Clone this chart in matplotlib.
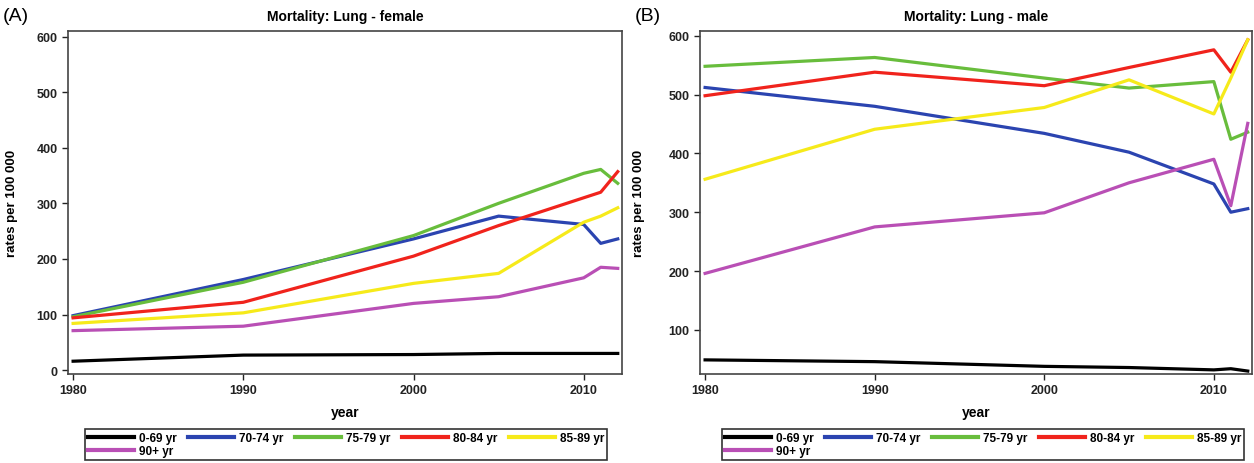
import matplotlib
matplotlib.use("Agg")
import matplotlib.pyplot as plt

plt.rcParams['font.family'] = ['Liberation Sans Narrow', 'Liberation Sans', 'DejaVu Sans']

years = [1980, 1990, 2000, 2005, 2010, 2011, 2012]
groups = ["0-69 yr", "70-74 yr", "75-79 yr", "80-84 yr", "85-89 yr", "90+ yr"]
colors = ["#000000", "#2b44b0", "#68bd3c", "#f0231c", "#f6ea1a", "#b94fb5"]

# female rates per 100 000
female = {
    "0-69 yr":  [16, 27, 28, 30, 30, 30, 30],
    "70-74 yr": [98, 163, 236, 277, 262, 228, 236],
    "75-79 yr": [96, 158, 242, 300, 354, 361, 336],
    "80-84 yr": [94, 122, 205, 260, 310, 320, 357],
    "85-89 yr": [84, 103, 156, 174, 266, 277, 292],
    "90+ yr":   [71, 79, 120, 132, 166, 185, 183],
}

# male rates per 100 000
male = {
    "0-69 yr":  [49, 46, 38, 36, 32, 34, 30],
    "70-74 yr": [512, 480, 434, 402, 348, 300, 306],
    "75-79 yr": [548, 563, 528, 511, 522, 424, 436],
    "80-84 yr": [498, 538, 515, 546, 576, 538, 593],
    "85-89 yr": [356, 441, 478, 525, 467, 528, 593],
    "90+ yr":   [196, 275, 299, 350, 390, 311, 451],
}

fig = plt.figure(figsize=(12.54, 4.64), dpi=100)
ax1 = fig.add_axes([68/1254, 1-375/464, 554/1254, 343/464])
ax2 = fig.add_axes([700/1254, 1-375/464, 552/1254, 343/464])

panels = [
    (ax1, female, "Mortality: Lung - female", "(A)", (-7, 610), [0, 100, 200, 300, 400, 500, 600], 0.502),
    (ax2, male, "Mortality: Lung - male", "(B)", (25, 608), [100, 200, 300, 400, 500, 600], 0.513),
]

# column-major legend fill -> row order 0-69 ... 85-89, then 90+
leg_order = [0, 5, 1, 2, 3, 4]

for ax, data, title, tag, ylim, yticks, legx in panels:
    lines = []
    for g, c in zip(groups, colors):
        ln, = ax.plot(years, data[g], color=c, linewidth=2.3, label=g)
        lines.append(ln)
    ax.set_xlim(1979.7, 2012.25)
    ax.set_ylim(*ylim)
    ax.set_xticks([1980, 1990, 2000, 2010])
    ax.set_yticks(yticks)
    ax.tick_params(labelsize=9, length=4, width=1, colors="#222222")
    for lab in ax.get_xticklabels() + ax.get_yticklabels():
        lab.set_fontweight("bold")
    for s in ax.spines.values():
        s.set_color("#444444")
        s.set_linewidth(1.2)
    ax.set_title(title, fontsize=10, fontweight="bold", pad=8)
    ax.set_xlabel("year", fontsize=10, fontweight="bold", labelpad=6)
    ax.set_ylabel("rates per 100 000", fontsize=9.5, fontweight="bold")
    ax.text(-0.118, 1.045, tag, transform=ax.transAxes, fontsize=14,
            va="center", ha="left")
    leg = ax.legend([lines[i] for i in leg_order], [groups[i] for i in leg_order],
                    loc="upper center", bbox_to_anchor=(legx, -0.16), ncol=5,
                    prop={"weight": "bold", "size": 8.5},
                    frameon=True, fancybox=False, edgecolor="black",
                    handlelength=3.9, columnspacing=1.0, borderpad=0.25,
                    labelspacing=0.1, handletextpad=0.4, borderaxespad=0)
    leg.get_frame().set_linewidth(1.2)
    for h in leg.get_lines():
        h.set_linewidth(3)

ax2.yaxis.set_label_coords(-0.1, 0.5)
ax1.yaxis.set_label_coords(-0.09, 0.5)

fig.savefig("out.png", dpi=100)
